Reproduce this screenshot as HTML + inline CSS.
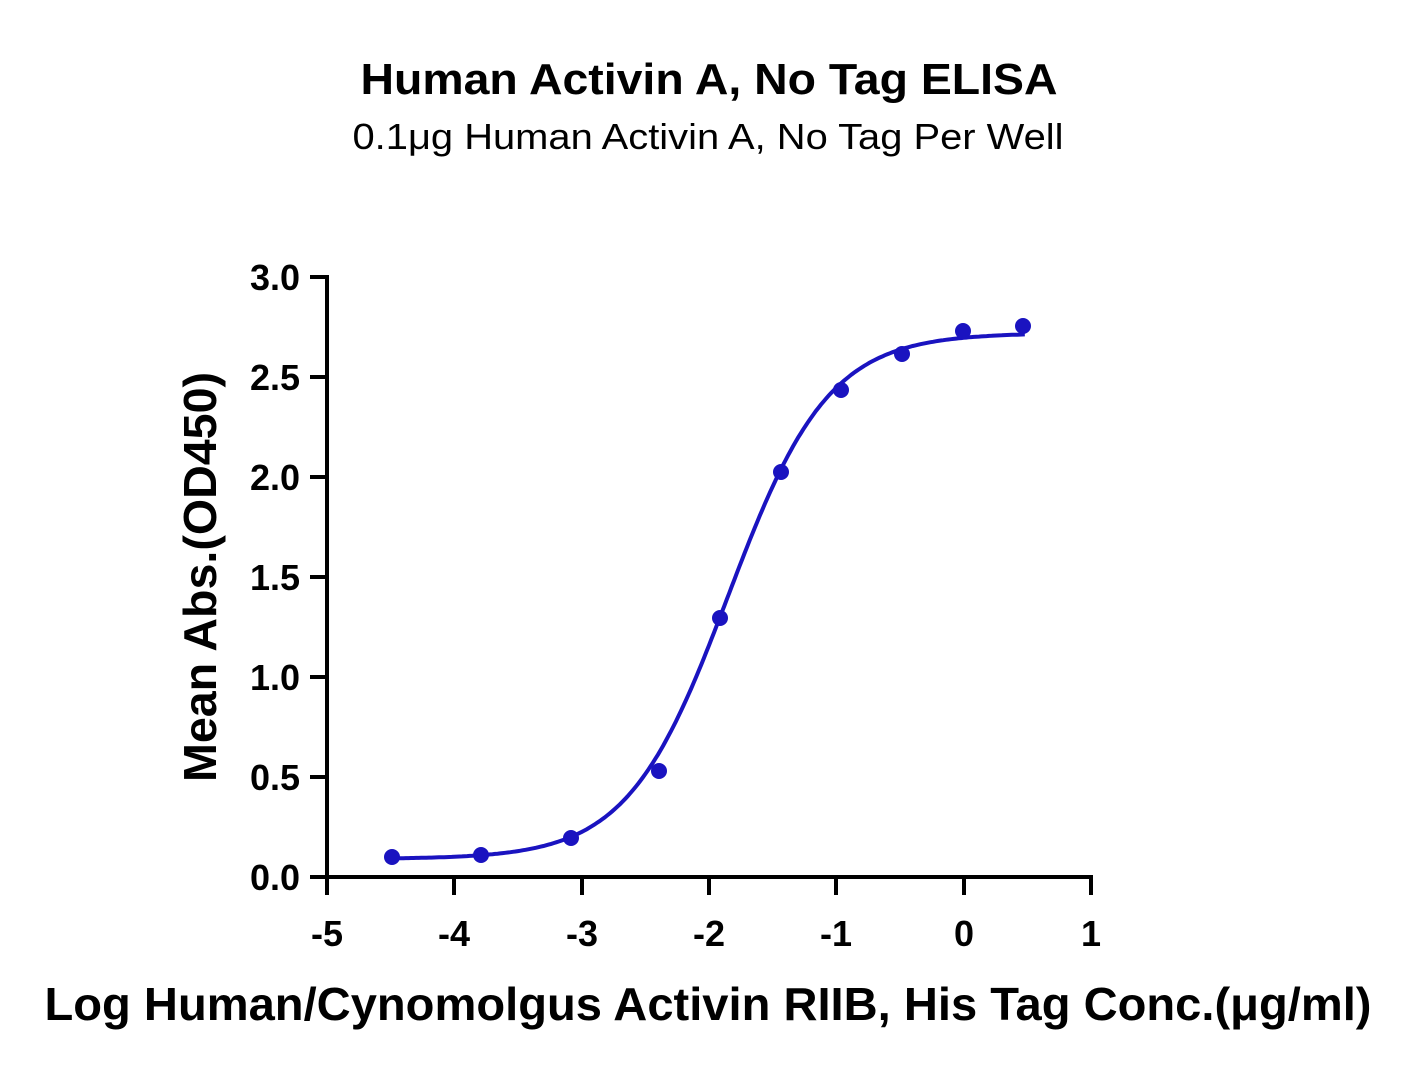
<!DOCTYPE html>
<html><head><meta charset="utf-8"><style>
body{margin:0;background:#fff;}
svg text{font-family:"Liberation Sans",sans-serif;fill:#000;}
</style></head><body>
<svg id="s" width="1419" height="1076" xmlns="http://www.w3.org/2000/svg">
<text x="709" y="94" text-anchor="middle" font-size="44" font-weight="bold" textLength="697" lengthAdjust="spacingAndGlyphs">Human Activin A, No Tag ELISA</text>
<text x="708" y="149" text-anchor="middle" font-size="36" textLength="711" lengthAdjust="spacingAndGlyphs">0.1μg Human Activin A, No Tag Per Well</text>
<g stroke="#000" stroke-width="4" fill="none">
<line x1="327" y1="275" x2="327" y2="879"/>
<line x1="325" y1="877" x2="1093" y2="877"/>
<line x1="310" y1="277" x2="327" y2="277"/>
<line x1="310" y1="377" x2="327" y2="377"/>
<line x1="310" y1="477" x2="327" y2="477"/>
<line x1="310" y1="577" x2="327" y2="577"/>
<line x1="310" y1="677" x2="327" y2="677"/>
<line x1="310" y1="777" x2="327" y2="777"/>
<line x1="310" y1="877" x2="327" y2="877"/>
<line x1="327" y1="877" x2="327" y2="895"/>
<line x1="454" y1="877" x2="454" y2="895"/>
<line x1="582" y1="877" x2="582" y2="895"/>
<line x1="709" y1="877" x2="709" y2="895"/>
<line x1="836" y1="877" x2="836" y2="895"/>
<line x1="964" y1="877" x2="964" y2="895"/>
<line x1="1091" y1="877" x2="1091" y2="895"/>
</g>
<g font-size="36" font-weight="bold" text-anchor="end">
<text x="300" y="290">3.0</text><text x="300" y="390">2.5</text><text x="300" y="490">2.0</text>
<text x="300" y="590">1.5</text><text x="300" y="690">1.0</text><text x="300" y="790">0.5</text><text x="300" y="890">0.0</text>
</g>
<g font-size="36" font-weight="bold" text-anchor="middle">
<text x="327" y="946">-5</text><text x="454" y="946">-4</text><text x="582" y="946">-3</text>
<text x="709" y="946">-2</text><text x="836" y="946">-1</text><text x="964" y="946">0</text><text x="1091" y="946">1</text>
</g>
<text transform="translate(216,577) rotate(-90)" text-anchor="middle" font-size="46" font-weight="bold" textLength="410" lengthAdjust="spacingAndGlyphs">Mean Abs.(OD450)</text>
<text x="708" y="1020" text-anchor="middle" font-size="46" font-weight="bold" textLength="1327" lengthAdjust="spacingAndGlyphs">Log Human/Cynomolgus Activin RIIB, His Tag Conc.(μg/ml)</text>
<path id="c" fill="none" stroke="#1a13c0" stroke-width="4"/>
<g fill="#1a13c0">
<circle cx="392" cy="857" r="8"/><circle cx="481" cy="855" r="8"/><circle cx="571" cy="838" r="8"/>
<circle cx="659" cy="771" r="8"/><circle cx="720" cy="618" r="8"/><circle cx="781" cy="472" r="8"/>
<circle cx="841" cy="390" r="8"/><circle cx="902" cy="354" r="8"/><circle cx="963" cy="331" r="8"/>
<circle cx="1023" cy="326" r="8"/>
</g>
</svg>
<script>
var d="";for(var x=-4.5;x<=0.481;x+=0.02){var y=0.09+2.63/(1+Math.pow(10,(-1.85-x)*1.1));
var px=327+(x+5)*127.33,py=877-y*200;d+=(d?"L":"M")+px.toFixed(1)+","+py.toFixed(1);}
document.getElementById("c").setAttribute("d",d);
</script>
</body></html>
